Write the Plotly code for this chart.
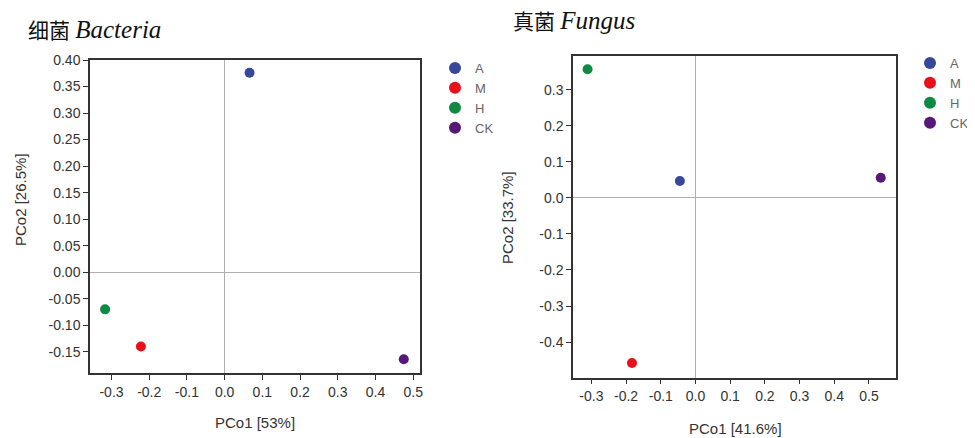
import plotly.graph_objects as go

groups = ["A", "M", "H", "CK"]
colors = ["#37479a", "#e8101a", "#0e8a42", "#571877"]

bac_x = [0.066, -0.222, -0.317, 0.475]
bac_y = [0.376, -0.140, -0.070, -0.164]
fun_x = [-0.045, -0.183, -0.311, 0.534]
fun_y = [0.047, -0.458, 0.357, 0.056]

bac_xticks = [-0.3, -0.2, -0.1, 0.0, 0.1, 0.2, 0.3, 0.4, 0.5]
bac_yticks = [0.40, 0.35, 0.30, 0.25, 0.20, 0.15, 0.10, 0.05, 0.00, -0.05, -0.10, -0.15]
fun_xticks = [-0.3, -0.2, -0.1, 0.0, 0.1, 0.2, 0.3, 0.4, 0.5]
fun_yticks = [0.3, 0.2, 0.1, 0.0, -0.1, -0.2, -0.3, -0.4]

# page offset compensation (body margin)
OFF = 8
W, H = 975 - OFF, 438 - OFF


def px(p):
    return (p - OFF) / W


def py(p):
    return 1 - (p - OFF) / H


fig = go.Figure()
for g, c, x, y in zip(groups, colors, bac_x, bac_y):
    fig.add_trace(go.Scatter(x=[x], y=[y], mode="markers", name=g,
                             marker=dict(color=c, size=10),
                             xaxis="x", yaxis="y", legend="legend"))
for g, c, x, y in zip(groups, colors, fun_x, fun_y):
    fig.add_trace(go.Scatter(x=[x], y=[y], mode="markers", name=g,
                             marker=dict(color=c, size=10),
                             xaxis="x2", yaxis="y2", legend="legend2"))

axis_common = dict(showline=True, mirror=True, linecolor="#333", linewidth=1.5,
                   ticks="outside", ticklen=5, tickcolor="#333", tickwidth=1.2,
                   showgrid=False, zeroline=True, zerolinecolor="#b0b0b0", zerolinewidth=1,
                   tickfont=dict(family="Arial, Liberation Sans", size=14, color="#333"))

leg_font = dict(family="Arial, Liberation Sans", size=13, color="#666")

fig.update_layout(
    width=W, height=H, margin=dict(l=0, r=0, t=0, b=0, autoexpand=False),
    paper_bgcolor="white", plot_bgcolor="white",
    xaxis=dict(domain=[px(90), px(420)], range=[-0.357, 0.518], anchor="y",
               tickvals=bac_xticks, ticktext=[f"{v:.1f}" for v in bac_xticks], **axis_common),
    yaxis=dict(domain=[py(373), py(60)], range=[-0.19, 0.40], anchor="x",
               tickvals=bac_yticks, ticktext=[f"{v:.2f}" for v in bac_yticks], **axis_common),
    xaxis2=dict(domain=[px(573), px(896)], range=[-0.353, 0.578], anchor="y2",
                tickvals=fun_xticks, ticktext=[f"{v:.1f}" for v in fun_xticks], **axis_common),
    yaxis2=dict(domain=[py(377.7), py(56)], range=[-0.499, 0.394], anchor="x2",
                tickvals=fun_yticks, ticktext=[f"{v:.1f}" for v in fun_yticks], **axis_common),
    legend=dict(x=px(435), y=py(53), xanchor="left", yanchor="top", bgcolor="rgba(0,0,0,0)",
                font=leg_font, itemsizing="constant", tracegroupgap=0),
    legend2=dict(x=px(910), y=py(48), xanchor="left", yanchor="top", bgcolor="rgba(0,0,0,0)",
                 font=leg_font, itemsizing="constant", tracegroupgap=0),
    showlegend=True,
)

ann_font = dict(family="Arial, Liberation Sans", size=15, color="#333")
annotations = [
    dict(text="PCo1 [53%]", x=px(255), y=py(422), font=ann_font),
    dict(text="PCo2 [26.5%]", x=px(20), y=py(200), textangle=-90, font=ann_font),
    dict(text="PCo1 [41.6%]", x=px(735), y=py(428), font=ann_font),
    dict(text="PCo2 [33.7%]", x=px(507), y=py(218), textangle=-90, font=ann_font),
    dict(text="细菌 <i><span style='font-size:25px'>Bacteria</span></i>", x=px(26), y=py(30),
         xanchor="left", font=dict(family="Liberation Serif, Noto Sans CJK SC", size=21, color="#111")),
    dict(text="真菌 <i><span style='font-size:25px'>Fungus</span></i>", x=px(511), y=py(21),
         xanchor="left", font=dict(family="Liberation Serif, Noto Sans CJK SC", size=21, color="#111")),
]
for a in annotations:
    a.setdefault("xanchor", "center")
    fig.add_annotation(xref="paper", yref="paper", showarrow=False, yanchor="middle", **a)

fig.write_html("out.html")
